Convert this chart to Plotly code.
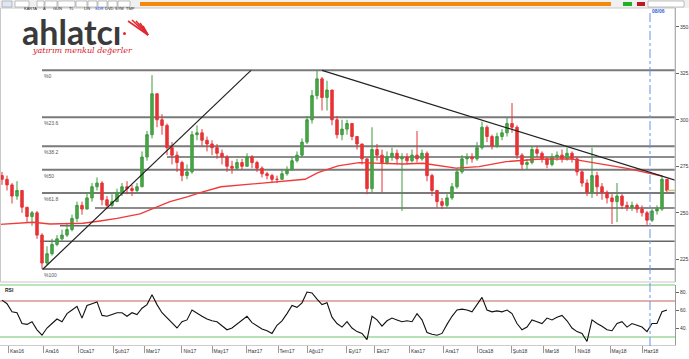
import plotly.graph_objects as go

W, H = 689, 359

# ---------------- data ----------------
close = [268,265,259,262,253,248,250,238,223,228,
         233,236,238,241,247,254,252,258,264,266,
         257,254,256,261,264,263,262,264,280,292,
         314,300,297,285,281,277,270,272,292,293,
         289,287,285,282,280,275,274,277,275,280,
         277,274,271,270,268,268,271,273,278,281,
         288,300,313,322,312,316,300,292,295,298,
         291,287,279,263,284,281,277,280,282,279,
         280,278,281,279,282,270,262,256,254,258,
         264,272,279,280,279,285,296,291,286,291,
         293,298,296,281,276,277,284,282,279,276,
         280,281,279,282,279,272,266,261,270,264,
         261,258,256,259,254,253,254,252,250,246,
         251,252,268,262]
high = [272,270,266,267,262,253,251,251,239,232,
        236,238,241,244,249,256,256,261,266,269,
        267,259,260,263,266,267,265,266,283,294,
        324,314,303,298,288,283,278,276,294,297,
        295,291,289,287,284,281,278,279,279,282,
        281,278,275,272,271,270,273,275,280,283,
        290,302,316,326.6,323,321,316,302,300,300,
        296,291,287,279,296,287,284,283,285,284,
        282,282,284,294,284,283,271,262,258,260,
        266,274,281,282,282,288,299,297,292,293,
        295,301,309,297,282,279,286,286,283,280,
        282,283,284,285,283,280,273,268,285,272,
        266,262,260,266,260,256,256,255,254,251,
        252,254,270,268]
low = [265,262,255,257,250,245,243,236,219.8,222,
       227,232,235,237,240,245,249,253,256,262,
       254,252,253,256,259,260,259,261,264,278,
       290,296,292,281,276,272,267,268,271,289,
       286,283,281,279,276,272,271,273,273,275,
       274,272,269,268,266,266,268,270,273,277,
       280,287,298,311,305,305,297,290,289,292,
       289,284,276,260,261,278,261,276,278,276,
       251,276,277,277,278,267,259,253,252,253,
       257,263,271,276,277,278,284,288,284,285,
       289,291,293,279,273,273,276,280,277,274,
       275,278,277,278,277,270,264,259,258,259,
       257,255,244,245,252,251,251,250,248,243.5,
       245,249,251,261]
first_open = 270
rsi = [71,67,58,57,45,44,47,38,32,40,
       45,50,47,56,60,64,51,65,67,69,
       54,53,55,57,57,53,57,55,62,66,
       77,66,57,51,45,40,47,49,60,56,
       53,50,48,47,42,38,40,44,48,53,
       46,42,39,37,34,43,48,56,65,63,
       68,80,79,72,66,68,52,45,41,47,
       40,36,34,27,53,49,42,48,51,49,
       47,48,47,56,49,35,33,32,34,44,
       53,60,61,60,58,66,74,60,58,59,
       58,60,56,45,38,41,49,47,45,51,
       49,52,54,48,40,36,34,25,49,45,
       42,38,37,45,47,41,45,43,41,36,
       45,45,58,60]
ma_idx = [-0.4,6.2,9.6,16.2,19.6,23,27.6,31,33.6,37.2,39.8,43.8,53.2,60.6,63.2,
          67.2,71.4,80.2,84.2,90.8,95.4,100.8,107,113.8,116.4,125,132]
ma_val = [243.8,244.9,244,244.4,245.6,247,249.4,253.3,256,258.7,261,264,266.2,268,
          271.6,275.2,277,276.2,276.6,274,274.8,277.5,278.8,279,277.8,273.9,269.8]
month_labels = ["Kas16","Ara16","Oca17","Şub17","Mar17","Nis17","May17","Haz17","Tem17",
                "Ağu17","Eyl17","Eki17","Kas17","Ara17","Oca18","Şub18","Mar18","Nis18",
                "May18","Haz18"]
month_pos = [1.2,8.2,15.2,22.2,28.4,35.8,42,48.8,55.2,61,68.8,74.4,81.4,88.2,95,101.8,
             108.2,114.6,121.6,128]
swing_low, swing_high = 219.8, 326.6
fib_ratios = [0, 0.236, 0.382, 0.5, 0.618, 1.0]
fib_labels = ["%0", "%23.6", "%38.2", "%50", "%61.8", "%100"]
fib_start = 8.0
extra_levels = [280.0, 252.6, 243.0, 234.7]
extra_starts = [33, 18.6, 11.6, 7.6]
trend_up = ([8.2, 49.8], [219.8, 326.6])
trend_down = ([64, 134.6], [326.6, 267.6])
price_ticks = [225, 250, 275, 300, 325, 350]
rsi_ticks = [40, 60, 80]
rsi_levels = [(70, "#c0625e"), (30, "#6cc46c")]
marker_idx = 129.6
marker_label = "08/06"

X_RANGE = [-0.4, 134.6]
idx = list(range(len(close)))
opens = [first_open] + close[:-1]

def px(xp): return xp / W
def py(yp): return 1 - yp / H

fig = go.Figure()
fig.add_trace(go.Candlestick(
    x=idx, open=opens, high=high, low=low, close=close,
    increasing=dict(line=dict(color="#3d9a3d", width=1), fillcolor="#4aa84a"),
    decreasing=dict(line=dict(color="#e83236", width=1), fillcolor="#e83236"),
    whiskerwidth=0, showlegend=False, xaxis="x", yaxis="y"))
fig.add_trace(go.Scatter(x=ma_idx, y=ma_val, mode="lines",
                         line=dict(color="#f03a3a", width=1.4), showlegend=False,
                         xaxis="x", yaxis="y"))
fig.add_trace(go.Scatter(x=idx, y=rsi, mode="lines",
                         line=dict(color="#111111", width=1.1), showlegend=False,
                         xaxis="x", yaxis="y2"))

shapes = []
annotations = []
rng = swing_high - swing_low
for r, lab in zip(fib_ratios, fib_labels):
    lvl = swing_high - r * rng
    shapes.append(dict(type="line", xref="x", yref="y", x0=fib_start, x1=X_RANGE[1],
                       y0=lvl, y1=lvl, line=dict(color="#7a7a7a", width=2), layer="below"))
    annotations.append(dict(xref="x", yref="y", x=fib_start, y=lvl, text=lab,
                            showarrow=False, xanchor="left", yanchor="top", yshift=-1,
                            font=dict(size=5, color="#555", family="Liberation Sans")))
for lvl, st in zip(extra_levels, extra_starts):
    shapes.append(dict(type="line", xref="x", yref="y", x0=st, x1=X_RANGE[1],
                       y0=lvl, y1=lvl, line=dict(color="#666666", width=1.6), layer="below"))
for tx, ty in (trend_up, trend_down):
    shapes.append(dict(type="line", xref="x", yref="y", x0=tx[0], x1=tx[1],
                       y0=ty[0], y1=ty[1], line=dict(color="#222222", width=1.2)))
# last price marker
shapes.append(dict(type="line", xref="x", yref="y", x0=idx[-1], x1=X_RANGE[1],
                   y0=close[-1], y1=close[-1], line=dict(color="#cfc27a", width=1.5)))
# RSI levels
for lv, col in rsi_levels:
    shapes.append(dict(type="line", xref="x", yref="y2", x0=X_RANGE[0], x1=X_RANGE[1],
                       y0=lv, y1=lv, line=dict(color=col, width=1.2), layer="below"))
shapes.append(dict(type="line", xref="paper", yref="paper", x0=0, x1=px(675),
                   y0=py(285), y1=py(285), line=dict(color="#7ccc7c", width=1.2)))
# frame of the price panel
shapes.append(dict(type="rect", xref="paper", yref="paper", x0=px(0.5), x1=px(675),
                   y0=py(282), y1=py(8), line=dict(color="#c8c8c8", width=1)))
# vertical blue dash-dot line
shapes.append(dict(type="line", xref="x", yref="paper", x0=marker_idx, x1=marker_idx,
                   y0=py(346), y1=py(10), line=dict(color="#6a8ff0", width=1, dash="dashdot")))
annotations.append(dict(xref="x", yref="paper", x=marker_idx, y=py(11), text=f"<b>{marker_label}</b>",
                        showarrow=False, xanchor="left", yanchor="middle",
                        font=dict(size=5, color="#3060e0", family="Liberation Sans")))

# toolbar
shapes.append(dict(type="rect", xref="paper", yref="paper", x0=0, x1=1, y0=py(8), y1=1,
                   fillcolor="#f0f0f0", line=dict(width=0), layer="below"))
shapes.append(dict(type="rect", xref="paper", yref="paper", x0=px(140), x1=px(611),
                   y0=py(6), y1=py(2), fillcolor="#f58a0a", line=dict(width=0)))
buttons = [("KARTA", 15, 29, "#222"), ("A", 37, 44, "#222"), ("GUN", 45, 57, "#222"),
           ("TL", 58, 75, "#222"), ("LIN", 76, 87, "#222"), ("SDR", 88, 97, "#1a3fd0"),
           ("DVD", 98, 107, "#222"), ("SYM", 108, 117, "#222"), ("TMP", 118, 130, "#222")]
for t, a, b, c in buttons:
    shapes.append(dict(type="rect", xref="paper", yref="paper", x0=px(a), x1=px(b),
                       y0=py(7), y1=py(1), fillcolor="#ffffff", line=dict(color="#999", width=0.6)))
    annotations.append(dict(xref="paper", yref="paper", x=px((a + b) / 2), y=py(4), text=t,
                            showarrow=False, font=dict(size=4, color=c, family="Liberation Sans")))
shapes.append(dict(type="rect", xref="paper", yref="paper", x0=px(2), x1=px(12),
                   y0=py(7), y1=py(1), fillcolor="#dfe6f5", line=dict(color="#999", width=0.6)))
shapes.append(dict(type="rect", xref="paper", yref="paper", x0=px(623), x1=px(632),
                   y0=py(6), y1=py(2), fillcolor="#22b022", line=dict(width=0)))
shapes.append(dict(type="rect", xref="paper", yref="paper", x0=px(637), x1=px(645),
                   y0=py(6), y1=py(2), fillcolor="#c01820", line=dict(width=0)))
shapes.append(dict(type="rect", xref="paper", yref="paper", x0=px(648), x1=px(684),
                   y0=py(7), y1=py(1), fillcolor="#ffffff", line=dict(color="#999", width=0.6)))

# logo
annotations.append(dict(xref="paper", yref="paper", x=px(20), y=py(32), text="<b>ahlatcı</b>",
                        showarrow=False, xanchor="left", yanchor="middle",
                        font=dict(size=34, color="#3a3a3a", family="Lato")))
annotations.append(dict(xref="paper", yref="paper", x=px(30), y=py(50),
                        text="<i>yatırım menkul değerler</i>", showarrow=False,
                        xanchor="left", yanchor="middle",
                        font=dict(size=8, color="#d8202a", family="DejaVu Serif")))
for (ex, ey) in [(128, 21), (132, 20), (136, 21), (140, 23), (143, 26)]:
    shapes.append(dict(type="line", xref="paper", yref="paper", x0=px(148), y0=py(35),
                       x1=px(ex), y1=py(ey), line=dict(color="#e02a30", width=1.6)))
shapes.append(dict(type="circle", xref="paper", yref="paper", x0=px(123), x1=px(126),
                   y0=py(35), y1=py(32), fillcolor="#e02a30", line=dict(width=0)))

annotations.append(dict(xref="paper", yref="paper", x=px(3), y=py(290), text="<b>RSI</b>",
                        showarrow=False, xanchor="left", yanchor="middle",
                        font=dict(size=5, color="#222", family="Liberation Sans")))

fig.update_layout(
    width=W, height=H, margin=dict(l=0, r=0, t=0, b=0, autoexpand=False),
    paper_bgcolor="white", plot_bgcolor="white", showlegend=False,
    xaxis=dict(domain=[0, px(675)], range=X_RANGE, anchor="y2", automargin=False,
               rangeslider=dict(visible=False), showgrid=False, zeroline=False,
               tickmode="array", tickvals=month_pos, ticktext=month_labels,
               ticks="outside", ticklen=7, tickcolor="#999", tickwidth=1,
               ticklabelshift=9, ticklabelstandoff=-6,
               tickfont=dict(size=5, color="#333", family="Liberation Sans"),
               showline=True, linecolor="#cccccc", linewidth=1),
    yaxis=dict(domain=[py(282), py(8)], range=[212.8, 360.1], side="right", anchor="x",
               automargin=False,
               showgrid=False, zeroline=False, tickmode="array", tickvals=price_ticks,
               ticktext=[f"{v}." for v in price_ticks], ticks="outside", ticklen=3,
               tickcolor="#666", tickfont=dict(size=5, color="#333", family="Liberation Sans"),
               showline=True, linecolor="#999999", linewidth=1),
    yaxis2=dict(domain=[py(345), py(285)], range=[21.1, 87.8], side="right", anchor="x",
                automargin=False,
                showgrid=False, zeroline=False, tickmode="array", tickvals=rsi_ticks,
                ticktext=[f"{v}." for v in rsi_ticks], ticks="outside", ticklen=3,
                tickcolor="#666", tickfont=dict(size=5, color="#333", family="Liberation Sans"),
                showline=True, linecolor="#999999", linewidth=1),
    shapes=shapes, annotations=annotations,
)
fig.write_html("out.html", config={"displayModeBar": False},
               post_script="document.body.style.margin='0px';document.body.style.overflow='hidden';")
